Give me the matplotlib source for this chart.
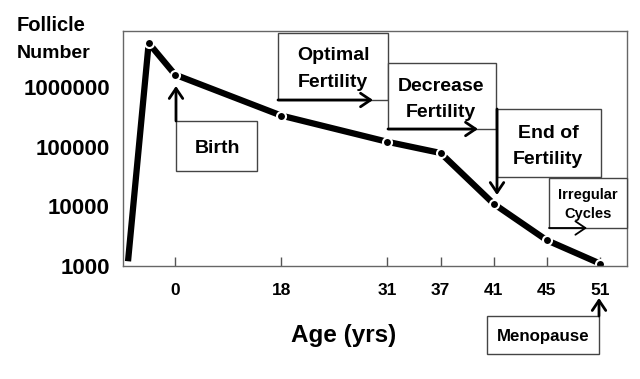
import numpy as np
import matplotlib
matplotlib.use("Agg")
import matplotlib.pyplot as plt
from matplotlib.patches import Rectangle, FancyArrowPatch
from matplotlib.ticker import NullLocator

# starost v letih (negativno = pred rojstvom) in število foliklov, odčitano s slike
ages = [-0.75, -0.42, 0, 18, 31, 37, 41, 45, 51]
follicles = [1200, 5.4e6, 1.6e6, 3.3e5, 1.2e5, 7.8e4, 1.1e4, 2700, 1100]

age_ticks = [0, 18, 31, 37, 41, 45, 51]
y_ticks = [1000, 10000, 100000, 1000000]

# os starosti ni linearna: vsak korak ima svojo širino
scale_age = [-3, -0.75, 0, 18, 31, 37, 41, 45, 51, 60]
scale_pos = [-3.54, -0.885, 0, 2, 4, 5, 6, 7, 8, 9.5]


def fwd(a):
    return np.interp(a, scale_age, scale_pos)


def inv(p):
    return np.interp(p, scale_pos, scale_age)


W, H = 640, 379
plt.rcParams['font.family'] = ['Liberation Sans', 'DejaVu Sans']
plt.rcParams['font.weight'] = 'bold'

fig = plt.figure(figsize=(W / 100, H / 100), dpi=100)
ax = fig.add_axes([123 / W, 1 - 266 / H, (627 - 123) / W, (266 - 31) / H])

ax.set_xscale('function', functions=(fwd, inv))
ax.set_yscale('log')
ax.set_xlim(-0.83, 54.06)
ax.set_ylim(1000, 8.6e6)

ax.plot(ages, follicles, color='black', lw=4.5, solid_capstyle='butt',
        marker='o', ms=6.5, mfc='black', mec='white', mew=1.5,
        markevery=list(range(1, len(ages))))

ax.set_xticks(age_ticks)
ax.set_xticklabels([str(a) for a in age_ticks])
ax.xaxis.set_minor_locator(NullLocator())
ax.set_yticks(y_ticks)
ax.set_yticklabels([str(v) for v in y_ticks])
ax.yaxis.set_minor_locator(NullLocator())

ax.tick_params(axis='y', length=0, pad=9.5, labelsize=16)
ax.tick_params(axis='x', direction='in', length=6.5, width=1, color='#555',
               pad=12.5, labelsize=12.5)
for s in ax.spines.values():
    s.set_color('#666')
    s.set_linewidth(1)


def fx(x):
    return x / W


def fy(y):
    return 1 - y / H


def box(x0, y0, x1, y1):
    fig.add_artist(Rectangle((fx(x0), fy(y1)), (x1 - x0) / W, (y1 - y0) / H,
                             transform=fig.transFigure, facecolor='white',
                             edgecolor='#444', lw=1))


def arrow(x0, y0, x1, y1, lw=2):
    fig.add_artist(FancyArrowPatch((fx(x0), fy(y0)), (fx(x1), fy(y1)),
                                   transform=fig.transFigure,
                                   arrowstyle='->,head_length=0.4,head_width=0.27',
                                   mutation_scale=18, lw=lw, color='black',
                                   shrinkA=0, shrinkB=0))


def txt(x, y, s, size=14, ha='center'):
    # y je sredina velikih črk, postavimo bazno črto
    fig.text(fx(x), fy(y + 0.358 * size * 100 / 72), s, fontsize=size,
             ha=ha, va='baseline', fontweight='bold')


# Birth
box(176, 121, 257, 171)
arrow(176, 121, 176, 86)
txt(217, 146, 'Birth')

# Optimal Fertility
box(278, 33, 388, 100)
arrow(278, 100, 373, 100)
txt(333, 53, 'Optimal')
txt(333, 80, 'Fertility')

# Decrease Fertility
box(388, 63, 496, 129)
arrow(388, 129, 478, 129)
txt(441, 84, 'Decrease')
txt(441, 110, 'Fertility')

# End of Fertility
box(497, 109, 601, 177)
arrow(497, 109, 497, 195)
txt(548, 131, 'End of')
txt(548, 157, 'Fertility')

# Irregular Cycles
box(549, 178, 627, 228)
arrow(549, 228, 587, 228, lw=1.3)
txt(588, 194, 'Irregular', size=10.5)
txt(588, 213, 'Cycles', size=10.5)

# Menopause
box(487, 316, 599, 354)
arrow(599, 316, 599, 298)
txt(543, 335, 'Menopause', size=12.2)

# oznake osi
txt(17, 24, 'Follicle', size=14.5, ha='left')
txt(17, 51, 'Number', size=14, ha='left')
txt(344, 333, 'Age (yrs)', size=17.5)

fig.savefig('out.png', dpi=100)
